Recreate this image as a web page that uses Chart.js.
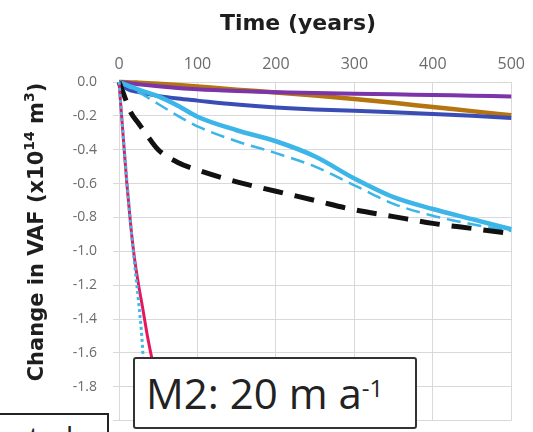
<!DOCTYPE html>
<html>
<head>
<meta charset="utf-8">
<script src="https://cdn.jsdelivr.net/npm/chart.js@4.4.1/dist/chart.umd.min.js"></script>
<style>
html,body{margin:0;padding:0;background:#fff;overflow:hidden;width:533px;height:432px;}
#wrap{position:absolute;left:0;top:0;width:533px;height:445px;}
#m2{position:absolute;left:133px;top:357px;width:280px;height:68px;border:2px solid #333;background:#fff;border-radius:3px;font-family:"Open Sans",sans-serif;color:#222;}
#m2 .txt{position:absolute;left:11px;top:13px;font-size:42px;line-height:42px;white-space:nowrap;}
#m2 .sup{font-size:24px;position:relative;top:-12px;}
#other{position:absolute;left:-3px;top:413px;width:108px;height:40px;border:2px solid #222;background:#fff;font-family:"Open Sans",sans-serif;color:#222;overflow:hidden;}
#other .txt{position:absolute;left:30px;top:7px;font-size:29px;line-height:29px;white-space:nowrap;}
</style>
</head>
<body>
<div id="wrap"><canvas id="c" width="533" height="445"></canvas></div>
<div id="m2"><span class="txt">M2: 20 m a<span class="sup">-1</span></span></div>
<div id="other"><span class="txt">ted</span></div>
<script>
// ---- data ----
const xTitle = "Time (years)";
const yTitleParts = [["Change in VAF (x10", false], ["14", true], [" m", false], ["3", true], [")", false]];
const xTicks = [0, 100, 200, 300, 400, 500];
const yTicks = [0, -0.2, -0.4, -0.6, -0.8, -1.0, -1.2, -1.4, -1.6, -1.8, -2.0];

const years = [0, 10, 25, 50, 75, 100, 150, 200, 250, 300, 350, 400, 450, 500];
const purpleVals   = [0, -0.006, -0.013, -0.025, -0.035, -0.043, -0.053, -0.060, -0.065, -0.069, -0.073, -0.077, -0.081, -0.085];
const brownVals    = [0, -0.001, -0.004, -0.010, -0.018, -0.027, -0.045, -0.062, -0.080, -0.100, -0.123, -0.148, -0.172, -0.197];
const darkBlueVals = [0, -0.040, -0.060, -0.082, -0.098, -0.110, -0.133, -0.150, -0.162, -0.170, -0.179, -0.189, -0.200, -0.213];
const lightSolidVals  = [0, -0.018, -0.045, -0.085, -0.140, -0.205, -0.285, -0.350, -0.440, -0.570, -0.680, -0.750, -0.810, -0.870];
const lightDashedVals = [0, -0.025, -0.060, -0.130, -0.200, -0.262, -0.350, -0.420, -0.500, -0.610, -0.720, -0.790, -0.840, -0.880];

const blackYears = [0, 5, 15, 25, 35, 50, 75, 100, 150, 200, 250, 300, 350, 400, 450, 500];
const blackVals  = [0, -0.06, -0.18, -0.245, -0.31, -0.40, -0.475, -0.52, -0.59, -0.645, -0.70, -0.755, -0.795, -0.835, -0.865, -0.895];

const pinkYears = [0, 5, 10, 15, 20, 25, 30, 37, 45, 58, 64];
const pinkVals  = [0, -0.30, -0.60, -0.85, -1.05, -1.20, -1.33, -1.52, -1.70, -1.96, -2.08];

const cyanYears = [0, 5, 10, 15, 20, 25, 29, 35, 37];
const cyanVals  = [0, -0.30, -0.58, -0.85, -1.08, -1.30, -1.50, -1.96, -2.08];

function pts(xs, ys) { return xs.map((x, i) => ({ x: x, y: ys[i] })); }

function ds(data, color, width, dash) {
  return {
    data: data, borderColor: color, backgroundColor: color, borderWidth: width,
    borderDash: dash || [], pointRadius: 0, fill: false,
    cubicInterpolationMode: 'monotone', clip: 4
  };
}

const titlePlugin = {
  id: 'axisTitles',
  afterDraw(chart) {
    const ctx = chart.ctx;
    ctx.save();
    ctx.fillStyle = '#1e1e1e';
    ctx.font = 'bold 22px "DejaVu Sans"';
    ctx.textAlign = 'center';
    ctx.textBaseline = 'alphabetic';
    ctx.fillText(xTitle, 298, 30);

    // rotated y title with superscripts
    const size = 21, supSize = 14;
    ctx.translate(43, 232);
    ctx.rotate(-Math.PI / 2);
    ctx.textAlign = 'left';
    let total = 0;
    const widths = yTitleParts.map(p => {
      ctx.font = 'bold ' + (p[1] ? supSize : size) + 'px "DejaVu Sans"';
      const w = ctx.measureText(p[0]).width;
      total += w;
      return w;
    });
    let x = -total / 2;
    yTitleParts.forEach((p, i) => {
      ctx.font = 'bold ' + (p[1] ? supSize : size) + 'px "DejaVu Sans"';
      ctx.fillText(p[0], x, p[1] ? -size * 0.42 : 0);
      x += widths[i];
    });
    ctx.restore();
  }
};

new Chart(document.getElementById('c'), {
  type: 'line',
  data: {
    datasets: [
      ds(pts(cyanYears, cyanVals), '#41b8e8', 3, [3, 3]),
      ds(pts(pinkYears, pinkVals), '#e8175d', 3),
      ds(pts(blackYears, blackVals), '#111111', 5, [20, 12]),
      ds(pts(years, lightSolidVals), '#3cb5e8', 4.5),
      ds(pts(years, lightDashedVals), '#3cb5e8', 2.5, [14, 7]),
      ds(pts(years, darkBlueVals), '#3a4db5', 4),
      ds(pts(years, purpleVals), '#7b35a8', 4),
      ds(pts(years, brownVals), '#b5740f', 4.5)
    ]
  },
  options: {
    responsive: false,
    animation: false,
    layout: { padding: { left: 0, top: 0, right: 20, bottom: 8 } },
    plugins: { legend: { display: false }, tooltip: { enabled: false }, title: { display: false } },
    scales: {
      x: {
        type: 'linear', position: 'top', min: 0, max: 500,
        afterBuildTicks: s => { s.ticks = xTicks.map(v => ({ value: v })); },
        afterFit: s => { s.height = 82; },
        grid: { color: '#d9d9d9', lineWidth: 1, drawTicks: false },
        border: { color: '#d9d9d9' },
        ticks: { color: '#6b6b6b', font: { family: 'Open Sans', size: 16 }, padding: 8, maxRotation: 0 }
      },
      y: {
        type: 'linear', min: -2, max: 0,
        afterBuildTicks: s => { s.ticks = yTicks.map(v => ({ value: v })); },
        afterFit: s => { s.width = 119; },
        grid: { color: '#d9d9d9', lineWidth: 1, tickLength: 6 },
        border: { color: '#d9d9d9' },
        ticks: { color: '#6b6b6b', font: { family: 'Open Sans', size: 14 }, padding: 16,
                 callback: v => Number(v).toFixed(1) }
      }
    }
  },
  plugins: [titlePlugin]
});
</script>
</body>
</html>
